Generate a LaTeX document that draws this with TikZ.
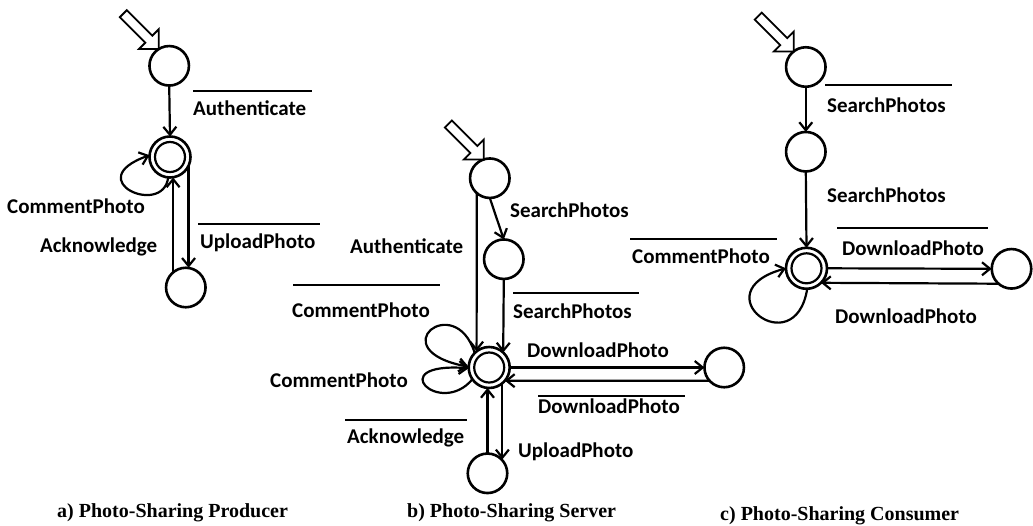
\documentclass[tikz,border=0pt]{standalone}
\usepackage{fontspec}
\newfontfamily\labfont{Carlito}
\newfontfamily\capfont{Liberation Serif}
\usetikzlibrary{arrows.meta,calc}
\tikzset{
 st/.style={draw, circle, line width=2.6pt, minimum size=39.5pt, inner sep=0pt, outer sep=0pt},
 acc/.style={draw, circle, line width=2.6pt, minimum size=41pt, inner sep=0pt, outer sep=0pt,
   path picture={\draw[line width=2.2pt] (path picture bounding box.center) circle[radius=15pt];}},
 arr/.style={line width=2.2pt, -{Straight Barb[length=8pt,width=13pt]}},
 lbl/.style={inner sep=0pt, anchor=base west, font=\labfont\bfseries\fontsize{21}{25}\selectfont},
 bar/.style={line width=2.2pt},
 captext/.style={inner sep=0pt, anchor=base west, font=\capfont\bfseries\fontsize{20}{24}\selectfont},
 initarrow/.pic={\draw[line width=1.8pt, fill=white, line join=miter]
   (0,0) -- (0,-19.8) -- (-6.4,-13.4) -- (-31.9,-38.9) -- (-38.9,-31.9) -- (-13.4,-6.4) -- (-19.8,0) -- cycle;}
}
\begin{document}
\begin{tikzpicture}[x=1pt,y=-1pt]
\useasboundingbox (0,0) rectangle (1033,525);
% ---------- panel a
\node[st] (a1) at (169.2,65.8) {};
\node[acc] (a2) at (170,157) {};
\node[st] (a3) at (185.8,287.5) {};
\pic at (a1.122) {initarrow};
\draw[arr] (a1.south) -- (a2.north);
\draw[arr] (a3.130) -- (a3.130 |- a2.south);
\draw[arr] (a2.-25) -- (a2.-25 |- a3.north);
\draw[arr] (a2.265) .. controls +(-5,40) and +(-70,25) .. (a2.175);
\node[lbl] (la1) at (193,115) {Authenticate};
\draw[bar] ($(la1.base west)+(0,-24)$) -- +(119,0);
\node[lbl] (la2) at (7,213) {CommentPhoto};
\node[lbl] (la3) at (40,252) {Acknowledge};
\node[lbl] (la4) at (200,248) {UploadPhoto};
\draw[bar] ($(la4.base west)+(-2,-24)$) -- +(122,0);
\node[captext] (ca) at (57,517) {a) Photo-Sharing Producer};
% ---------- panel b
\node[st] (b1) at (489.8,178.2) {};
\node[st] (b2) at (503.8,259.2) {};
\node[acc] (b3) at (489.2,367.5) {};
\node[st] (b4) at (724.2,367.5) {};
\node[st] (b5) at (487.5,473.3) {};
\pic at (b1.108) {initarrow};
\draw[arr] (b1.229) -- (b3.128);
\draw[arr] (b1.south) -- (b2.north);
\draw[arr] (b2.south) -- (b3.47);
\draw[arr] (b3.east) -- (b4.west);
\draw[arr] (b4.222) -- (b3.-40);
\draw[arr] (b5.north) -- (b5.north |- b3.south);
\draw[arr] (b3.-50) -- (b3.-50 |- b5.45);
\draw[arr] (b3.135) .. controls (455,290) and (380,350) .. (b3.178);
\draw[arr] (b3.215) .. controls (440,418) and (382,362) .. (b3.182);
\node[lbl] (lb1) at (510,217) {SearchPhotos};
\node[lbl] (lb2) at (350,253) {Authenticate};
\node[lbl] (lb3) at (292,317) {CommentPhoto};
\draw[bar] ($(lb3.base west)+(1,-32)$) -- +(147,0);
\node[lbl] (lb4) at (513,318) {SearchPhotos};
\draw[bar] ($(lb4.base west)+(0,-25)$) -- +(126,0);
\node[lbl] (lb5) at (270,387) {CommentPhoto};
\node[lbl] (lb6) at (527,357) {DownloadPhoto};
\node[lbl] (lb7) at (538,413) {DownloadPhoto};
\draw[bar] ($(lb7.base west)+(0,-17)$) -- +(147,0);
\node[lbl] (lb8) at (347,443) {Acknowledge};
\draw[bar] ($(lb8.base west)+(-2,-23)$) -- +(122,0);
\node[lbl] (lb9) at (518,457) {UploadPhoto};
\node[captext] (cb) at (407,517) {b) Photo-Sharing Server};
% ---------- panel c
\node[st] (c1) at (805.8,67) {};
\node[st] (c2) at (805.8,151.7) {};
\node[acc] (c3) at (806.5,268.3) {};
\node[st] (c4) at (1011.5,268.8) {};
\pic at (c1.128) {initarrow};
\draw[arr] (c1.south) -- (c2.north);
\draw[arr] (c2.south) -- (c3.north);
\draw[arr] (c3.east) -- (c4.west);
\draw[arr] (c4.229) -- (c3.-45);
\draw[arr] (c3.272) .. controls (795,365) and (700,292) .. (c3.180);
\node[lbl] (lc1) at (827,112) {SearchPhotos};
\draw[bar] ($(lc1.base west)+(-2,-27)$) -- +(127,0);
\node[lbl] (lc2) at (827,202) {SearchPhotos};
\node[lbl] (lc3) at (632,263) {CommentPhoto};
\draw[bar] ($(lc3.base west)+(-2,-24)$) -- +(147,0);
\node[lbl] (lc4) at (842,255) {DownloadPhoto};
\draw[bar] ($(lc4.base west)+(-5,-27)$) -- +(151,0);
\node[lbl] (lc5) at (835,323) {DownloadPhoto};
\node[captext] (cc) at (720,520) {c) Photo-Sharing Consumer};
\end{tikzpicture}
\end{document}
